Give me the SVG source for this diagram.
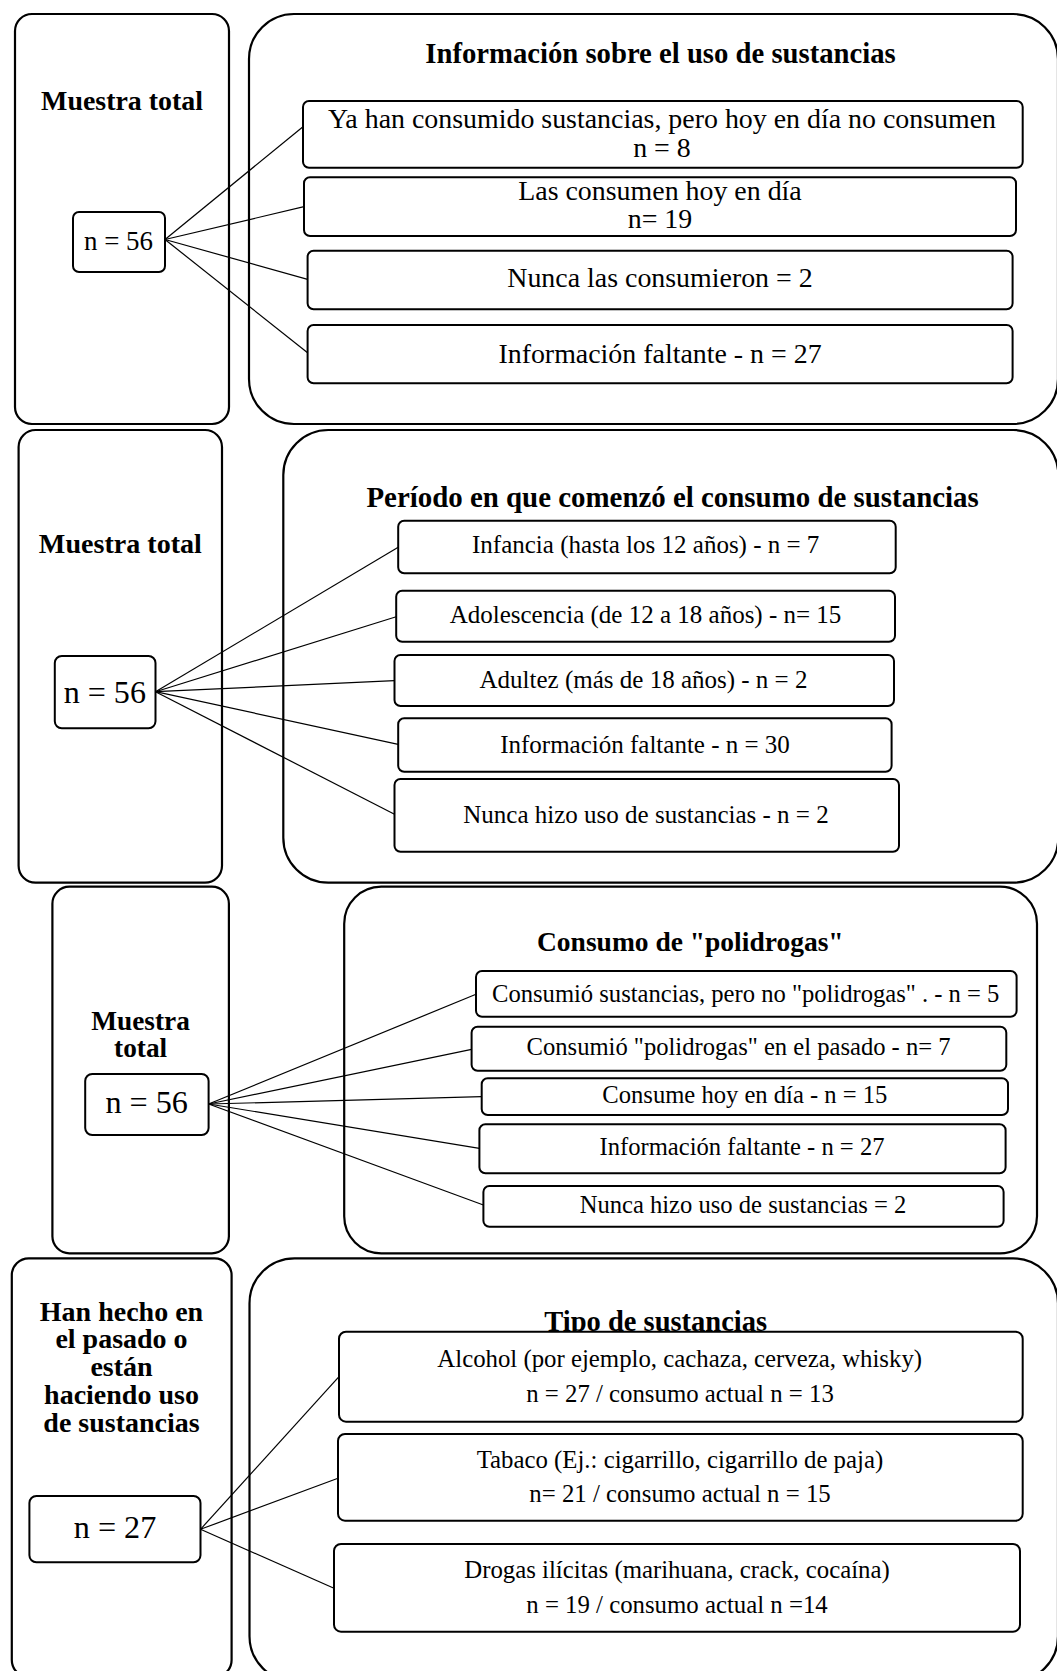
<svg xmlns="http://www.w3.org/2000/svg" width="1057" height="1671" viewBox="0 0 1057 1671">
<style>
.panel{fill:#fff;stroke:#000;stroke-width:2.2}
.box{fill:#fff;stroke:#000;stroke-width:2}
.conn line{stroke:#000;stroke-width:1.2}
text{font-family:'Liberation Serif','Times New Roman',serif;fill:#000;text-anchor:middle}
.b{font-weight:bold}
</style>
<rect width="1057" height="1671" fill="#fff"/>

<!-- Section 1 -->
<g id="s1-left">
<rect class="panel" x="15" y="14" width="214" height="410" rx="17"/>
<text class="b" x="122" y="110" font-size="27.9">Muestra total</text>
</g>
<g id="s1-right">
<rect class="panel" x="249" y="14" width="809" height="410" rx="45"/>
<text class="b" x="660.5" y="63" font-size="28.7">Información sobre el uso de sustancias</text>
</g>
<g id="s1-n">
<rect class="box" x="73" y="212" width="92" height="60" rx="6"/>
<text x="118.5" y="250" font-size="26.9">n = 56</text>
</g>
<g class="conn" id="s1-connectors">
<line x1="165" y1="239.5" x2="303" y2="126.7"/>
<line x1="165" y1="239.5" x2="304" y2="206.7"/>
<line x1="165" y1="239.5" x2="307.6" y2="279.3"/>
<line x1="165" y1="239.5" x2="307.6" y2="352.7"/>
</g>
<g id="s1-b1">
<rect class="box" x="303" y="101" width="719.7" height="66.7" rx="6"/>
<text x="662" y="128" font-size="27.9">Ya han consumido sustancias, pero hoy en día no consumen<tspan x="662" dy="29">n = 8</tspan></text>
</g>
<g id="s1-b2">
<rect class="box" x="304" y="177.3" width="712" height="58.7" rx="6"/>
<text x="660" y="200" font-size="27.9">Las consumen hoy en día<tspan x="660" dy="28">n= 19</tspan></text>
</g>
<g id="s1-b3">
<rect class="box" x="307.6" y="250.7" width="705" height="58.6" rx="6"/>
<text x="660" y="287" font-size="27.9">Nunca las consumieron = 2</text>
</g>
<g id="s1-b4">
<rect class="box" x="307.6" y="325" width="705" height="58.3" rx="6"/>
<text x="660" y="363" font-size="27.9">Información faltante - n = 27</text>
</g>

<!-- Section 2 -->
<g id="s2-left">
<rect class="panel" x="18.6" y="430" width="203.4" height="452.7" rx="17"/>
<text class="b" x="120.4" y="553.3" font-size="28.1">Muestra total</text>
</g>
<g id="s2-right">
<rect class="panel" x="283.3" y="430" width="775" height="452.7" rx="45"/>
<text class="b" x="672.6" y="506.7" font-size="28.9">Período en que comenzó el consumo de sustancias</text>
</g>
<g id="s2-n">
<rect class="box" x="54.8" y="656" width="100.7" height="72.3" rx="7"/>
<text x="104.8" y="702.7" font-size="32.1">n = 56</text>
</g>
<g class="conn" id="s2-connectors">
<line x1="155.5" y1="691.7" x2="398.2" y2="547.3"/>
<line x1="155.5" y1="691.7" x2="396.2" y2="616.7"/>
<line x1="155.5" y1="691.7" x2="394.5" y2="680.7"/>
<line x1="155.5" y1="691.7" x2="398.2" y2="744.3"/>
<line x1="155.5" y1="691.7" x2="394.5" y2="814.3"/>
</g>
<g id="s2-b1">
<rect class="box" x="398.2" y="520.7" width="497.5" height="52.6" rx="6"/>
<text x="645.7" y="553.3" font-size="25">Infancia (hasta los 12 años) - n = 7</text>
</g>
<g id="s2-b2">
<rect class="box" x="396.2" y="590.7" width="498.8" height="51" rx="6"/>
<text x="645.5" y="622.7" font-size="25">Adolescencia (de 12 a 18 años) - n= 15</text>
</g>
<g id="s2-b3">
<rect class="box" x="394.5" y="655" width="499.5" height="51" rx="6"/>
<text x="643.5" y="688.3" font-size="25">Adultez (más de 18 años) - n = 2</text>
</g>
<g id="s2-b4">
<rect class="box" x="398.2" y="718.3" width="493.4" height="53.4" rx="6"/>
<text x="645" y="753.3" font-size="25">Información faltante - n = 30</text>
</g>
<g id="s2-b5">
<rect class="box" x="394.5" y="779" width="504.5" height="72.7" rx="6"/>
<text x="646" y="823.3" font-size="25">Nunca hizo uso de sustancias - n = 2</text>
</g>

<!-- Section 3 -->
<g id="s3-left">
<rect class="panel" x="52.4" y="886.7" width="176.5" height="366.6" rx="17"/>
<text class="b" x="140.6" y="1030" font-size="27.3">Muestra<tspan x="140.6" dy="26.7">total</tspan></text>
</g>
<g id="s3-right">
<rect class="panel" x="344.2" y="886.7" width="692.8" height="366.6" rx="37"/>
<text class="b" x="690.3" y="951" font-size="27.5">Consumo de "polidrogas"</text>
</g>
<g id="s3-n">
<rect class="box" x="85.2" y="1074" width="123.4" height="61" rx="7"/>
<text x="146.7" y="1113.3" font-size="32.2">n = 56</text>
</g>
<g class="conn" id="s3-connectors">
<line x1="208.6" y1="1104" x2="476" y2="994.3"/>
<line x1="208.6" y1="1104" x2="471.6" y2="1049.3"/>
<line x1="208.6" y1="1104" x2="481.7" y2="1096.7"/>
<line x1="208.6" y1="1104" x2="479.4" y2="1148.3"/>
<line x1="208.6" y1="1104" x2="483.4" y2="1205"/>
</g>
<g id="s3-b1">
<rect class="box" x="476" y="971" width="540.6" height="45.7" rx="6"/>
<text x="745.7" y="1001.7" font-size="24.6">Consumió sustancias, pero no "polidrogas" . - n = 5</text>
</g>
<g id="s3-b2">
<rect class="box" x="471.6" y="1026.7" width="534.7" height="44" rx="6"/>
<text x="738.6" y="1055" font-size="24.6">Consumió "polidrogas" en el pasado - n= 7</text>
</g>
<g id="s3-b3">
<rect class="box" x="481.7" y="1078.3" width="526.3" height="36.7" rx="6"/>
<text x="744.9" y="1103.3" font-size="24.6">Consume hoy en día - n = 15</text>
</g>
<g id="s3-b4">
<rect class="box" x="479.4" y="1124.3" width="526.2" height="49" rx="6"/>
<text x="742" y="1155" font-size="24.6">Información faltante - n = 27</text>
</g>
<g id="s3-b5">
<rect class="box" x="483.4" y="1186" width="520.2" height="40.7" rx="6"/>
<text x="743" y="1213.3" font-size="24.6">Nunca hizo uso de sustancias = 2</text>
</g>

<!-- Section 4 -->
<g id="s4-left">
<rect class="panel" x="11.8" y="1258.3" width="219.8" height="418.7" rx="17"/>
<text class="b" x="121.5" y="1320.7" font-size="28">Han hecho en<tspan x="121.5" dy="27.6">el pasado o</tspan><tspan x="121.5" dy="27.4">están</tspan><tspan x="121.5" dy="28.3">haciendo uso</tspan><tspan x="121.5" dy="27.7">de sustancias</tspan></text>
</g>
<g id="s4-right">
<rect class="panel" x="249.5" y="1258.3" width="808.5" height="423" rx="45"/>
<text class="b" x="655.7" y="1331" font-size="28.5">Tipo de sustancias</text>
</g>
<g id="s4-n">
<rect class="box" x="29.4" y="1496" width="171.1" height="66.3" rx="7"/>
<text x="115" y="1538.3" font-size="32.2">n = 27</text>
</g>
<g class="conn" id="s4-connectors">
<line x1="200.5" y1="1529.3" x2="339" y2="1376.7"/>
<line x1="200.5" y1="1529.3" x2="338" y2="1478.3"/>
<line x1="200.5" y1="1529.3" x2="334" y2="1588.3"/>
</g>
<g id="s4-b1">
<rect class="box" x="339" y="1331.7" width="683.7" height="90" rx="7"/>
<text x="679.7" y="1366.7" font-size="24.8">Alcohol (por ejemplo, cachaza, cerveza, whisky)<tspan x="680" dy="35">n = 27 / consumo actual n = 13</tspan></text>
</g>
<g id="s4-b2">
<rect class="box" x="338" y="1434" width="684.7" height="86.7" rx="7"/>
<text x="679.9" y="1468.3" font-size="24.8">Tabaco (Ej.: cigarrillo, cigarrillo de paja)<tspan x="680" dy="33.4">n= 21 / consumo actual n = 15</tspan></text>
</g>
<g id="s4-b3">
<rect class="box" x="334" y="1544" width="686" height="87.7" rx="7"/>
<text x="677" y="1578.3" font-size="24.8">Drogas ilícitas (marihuana, crack, cocaína)<tspan x="677" dy="34.4">n = 19 / consumo actual n =14</tspan></text>
</g>
</svg>
